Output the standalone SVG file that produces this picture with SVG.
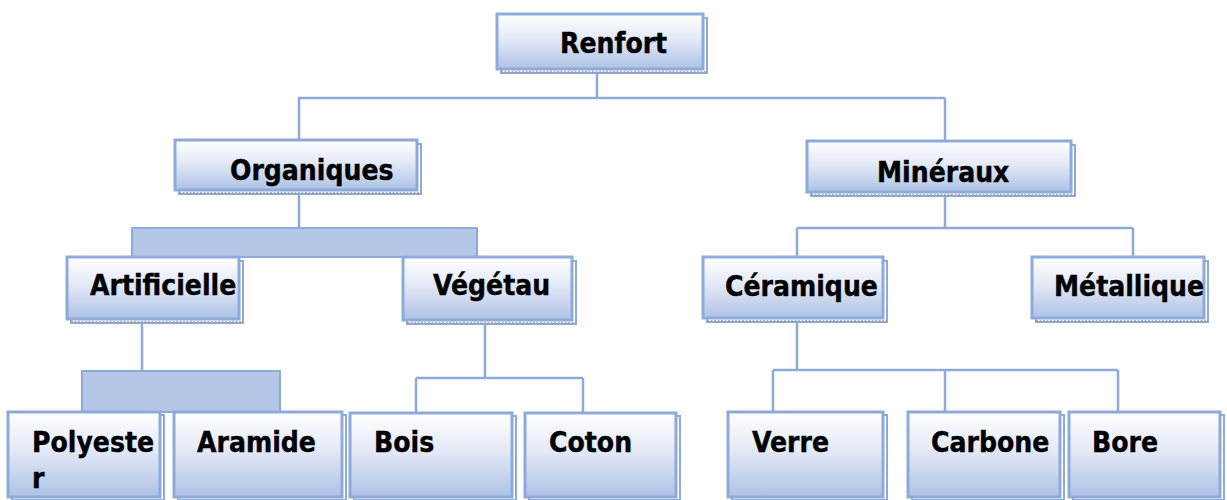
<svg xmlns="http://www.w3.org/2000/svg" width="1227" height="500" viewBox="0 0 1227 500">
<defs>
<linearGradient id="g" x1="0" y1="0" x2="0" y2="1">
<stop offset="0" stop-color="#ffffff"/>
<stop offset="0.45" stop-color="#e3e9f6"/>
<stop offset="1" stop-color="#adc2e5"/>
</linearGradient>
<style>
.sh{fill:#ffffff;stroke:#8eaadb;stroke-width:2}
.sd{stroke:#9a9a9a;stroke-width:1.5;stroke-dasharray:2 1.5;fill:none}
.bx{fill:url(#g);stroke:#8eaadb;stroke-width:3}
.t{font-family:"DejaVu Sans Condensed","DejaVu Sans",sans-serif;font-weight:bold;font-size:28px;fill:#000;stroke:#000;stroke-width:0.4}
.c{stroke:#8eaadb;stroke-width:2.5;fill:none}
.bar{fill:#b4c7e7;stroke:#8eaadb;stroke-width:2}
</style>
</defs>
<g id="connectors">
<path class="c" d="M597,70 V98 M298,98 H945 M299,98 V140 M945,98 V141"/>
<path class="c" d="M299,193 V228"/>
<rect class="bar" x="132" y="228" width="345" height="29"/>
<path class="c" d="M945,193 V228 M797,228 H1133 M797,228 V257 M1133,228 V257"/>
<path class="c" d="M142,320 V371"/>
<rect class="bar" x="82" y="371" width="198" height="41"/>
<path class="c" d="M485,320 V378 M416,378 H583 M416,378 V413 M583,378 V413"/>
<path class="c" d="M797,318 V370 M773,370 H1118 M773,370 V412 M1118,370 V412"/>
<path class="c" d="M945,370 V412" stroke-width="4"/>
</g>
<g id="renfort">
<rect class="sh" x="501" y="18" width="206" height="55"/><line class="sd" x1="501" y1="72" x2="707" y2="72"/>
<rect class="bx" x="497" y="14" width="206" height="55"/>
<text class="t" x="560" y="53">Renfort</text>
</g>
<g id="organiques">
<rect class="sh" x="179" y="144" width="242" height="50"/><line class="sd" x1="179" y1="193" x2="421" y2="193"/>
<rect class="bx" x="175" y="140" width="242" height="50"/>
<text class="t" x="230" y="180">Organiques</text>
</g>
<g id="mineraux">
<rect class="sh" x="811" y="145" width="264" height="51"/><line class="sd" x1="811" y1="195" x2="1075" y2="195"/>
<rect class="bx" x="807" y="141" width="264" height="51"/>
<text class="t" x="877" y="182">Minéraux</text>
</g>
<g id="artificielle">
<rect class="sh" x="71" y="261" width="172" height="62"/><line class="sd" x1="71" y1="322" x2="243" y2="322"/>
<rect class="bx" x="67" y="257" width="172" height="62"/>
<text class="t" x="90" y="295">Artificielle</text>
</g>
<g id="vegetau">
<rect class="sh" x="407" y="261" width="169" height="63"/><line class="sd" x1="407" y1="323" x2="576" y2="323"/>
<rect class="bx" x="403" y="257" width="169" height="63"/>
<text class="t" x="433" y="295">Végétau</text>
</g>
<g id="ceramique">
<rect class="sh" x="707" y="261" width="180" height="61"/><line class="sd" x1="707" y1="321" x2="887" y2="321"/>
<rect class="bx" x="703" y="257" width="180" height="61"/>
<text class="t" x="725" y="296">Céramique</text>
</g>
<g id="metallique">
<rect class="sh" x="1036" y="261" width="172" height="61"/><line class="sd" x1="1036" y1="321" x2="1208" y2="321"/>
<rect class="bx" x="1032" y="257" width="172" height="61"/>
<text class="t" x="1054" y="296">Métallique</text>
</g>
<g id="polyester">
<rect class="sh" x="12" y="415" width="152" height="85"/>
<rect class="bx" x="8" y="412" width="152" height="85"/>
<text class="t" x="32" y="452">Polyeste</text>
<text class="t" x="32" y="488">r</text>
</g>
<g id="aramide">
<rect class="sh" x="178" y="415" width="168" height="85"/>
<rect class="bx" x="174" y="412" width="168" height="85"/>
<text class="t" x="197" y="452">Aramide</text>
</g>
<g id="bois">
<rect class="sh" x="354" y="416" width="162" height="84"/>
<rect class="bx" x="350" y="413" width="162" height="84"/>
<text class="t" x="374" y="452">Bois</text>
</g>
<g id="coton">
<rect class="sh" x="529" y="416" width="151" height="84"/>
<rect class="bx" x="525" y="413" width="151" height="84"/>
<text class="t" x="549" y="452">Coton</text>
</g>
<g id="verre">
<rect class="sh" x="732" y="415" width="155" height="85"/>
<rect class="bx" x="728" y="412" width="155" height="85"/>
<text class="t" x="752" y="452">Verre</text>
</g>
<g id="carbone">
<rect class="sh" x="912" y="415" width="152" height="85"/>
<rect class="bx" x="908" y="412" width="152" height="85"/>
<text class="t" x="931" y="452">Carbone</text>
</g>
<g id="bore">
<rect class="sh" x="1073" y="415" width="151" height="85"/>
<rect class="bx" x="1069" y="412" width="151" height="85"/>
<text class="t" x="1092" y="452">Bore</text>
</g>
</svg>
